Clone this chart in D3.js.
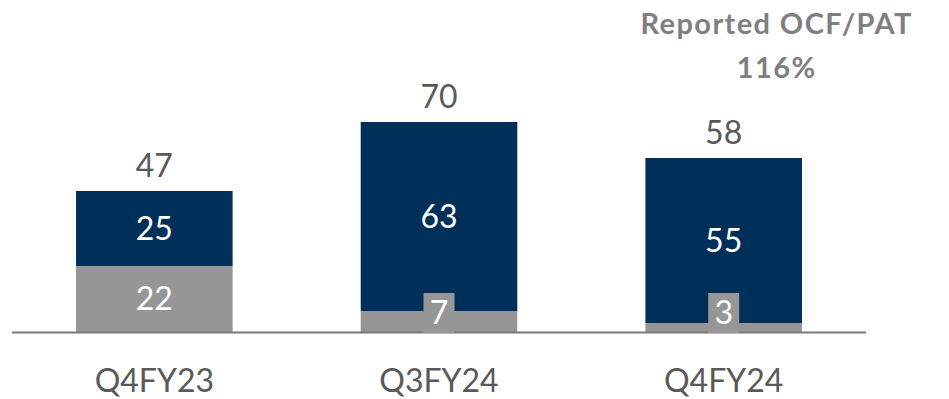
<!DOCTYPE html>
<html>
<head>
<meta charset="utf-8">
<script src="https://cdn.jsdelivr.net/npm/d3@7"></script>
<style>
  html, body { margin: 0; padding: 0; background: #ffffff; }
  svg { display: block; }
</style>
</head>
<body>
<svg id="chart" width="949" height="399"></svg>
<script>
// Quarterly cash flow build-up
const quarters = ["Q4FY23", "Q3FY24", "Q4FY24"];
const baseValues = [22, 7, 3];     // lower (grey) segment
const topValues = [25, 63, 55];    // upper (navy) segment
const totals = [47, 70, 58];
const noteLines = ["Reported OCF/PAT", "116%"];

const svg = d3.select("#chart");

const x = d3.scaleBand()
  .domain(quarters)
  .range([12, 866])
  .paddingInner(0.45)
  .paddingOuter(0.225);

const y = d3.scaleLinear()
  .domain([0, 70])
  .range([332, 122]);

const navy = "#002F59";
const grey = "#969696";
const textGrey = "#595959";
const font = "Lato, 'Open Sans', sans-serif";

const rows = quarters.map((q, i) => ({
  q, base: baseValues[i], top: topValues[i], total: totals[i]
}));

// Stacked segments
const g = svg.append("g");
g.selectAll("rect.base").data(rows).join("rect")
  .attr("class", "base")
  .attr("x", d => x(d.q))
  .attr("width", x.bandwidth())
  .attr("y", d => y(d.base))
  .attr("height", d => y(0) - y(d.base))
  .attr("fill", grey);

g.selectAll("rect.top").data(rows).join("rect")
  .attr("class", "top")
  .attr("x", d => x(d.q))
  .attr("width", x.bandwidth())
  .attr("y", d => y(d.base + d.top))
  .attr("height", d => y(d.base) - y(d.base + d.top))
  .attr("fill", navy);

// Baseline
svg.append("line")
  .attr("x1", 12).attr("x2", 866)
  .attr("y1", y(0) + 0.5).attr("y2", y(0) + 0.5)
  .attr("stroke", "#7a7a7a")
  .attr("stroke-width", 2);

// Segment value labels; short segments get a grey tag behind the number
const fs = 32;
const tagH = 40, tagW = 31;
rows.forEach(d => {
  const cx = x(d.q) + x.bandwidth() / 2;
  const segH = y(0) - y(d.base);
  if (segH < tagH) {
    svg.append("rect")
      .attr("x", cx - tagW / 2)
      .attr("y", y(0) - tagH + 1)
      .attr("width", tagW)
      .attr("height", tagH)
      .attr("fill", grey);
    svg.append("text")
      .attr("x", cx)
      .attr("y", y(0) - tagH / 2 + 1)
      .attr("dy", "0.35em")
      .attr("text-anchor", "middle")
      .attr("font-family", font)
      .attr("font-size", fs)
      .attr("fill", "#ffffff")
      .text(d.base);
  } else {
    svg.append("text")
      .attr("x", cx)
      .attr("y", (y(0) + y(d.base)) / 2)
      .attr("dy", "0.35em")
      .attr("text-anchor", "middle")
      .attr("font-family", font)
      .attr("font-size", fs)
      .attr("fill", "#ffffff")
      .text(d.base);
  }
  svg.append("text")
    .attr("x", cx)
    .attr("y", (y(d.base) + y(d.base + d.top)) / 2)
    .attr("dy", "0.35em")
    .attr("text-anchor", "middle")
    .attr("font-family", font)
    .attr("font-size", fs)
    .attr("fill", "#ffffff")
    .text(d.top);

  // Total above the stack
  svg.append("text")
    .attr("x", cx)
    .attr("y", y(d.total) - 14)
    .attr("text-anchor", "middle")
    .attr("font-family", font)
    .attr("font-size", fs)
    .attr("fill", textGrey)
    .text(d.total);
});

// Category axis labels
const xAxis = svg.append("g")
  .attr("transform", `translate(0, ${y(0)})`)
  .call(d3.axisBottom(x).tickSize(0).tickPadding(0));
xAxis.select(".domain").remove();
xAxis.selectAll("text")
  .attr("y", 60)
  .attr("dy", 0)
  .attr("font-family", font)
  .attr("font-size", fs)
  .attr("fill", textGrey);

// Note above the latest quarter
const noteX = x(quarters[2]) + x.bandwidth() / 2 + 53;
svg.append("text")
  .attr("x", noteX)
  .attr("text-anchor", "middle")
  .attr("font-family", font)
  .attr("font-weight", "bold")
  .attr("font-size", 29)
  .attr("letter-spacing", 1.4)
  .attr("fill", "#7f7f7f")
  .selectAll("tspan").data(noteLines).join("tspan")
  .attr("x", noteX)
  .attr("y", (d, i) => 34 + i * 44)
  .text(d => d);
</script>
</body>
</html>
